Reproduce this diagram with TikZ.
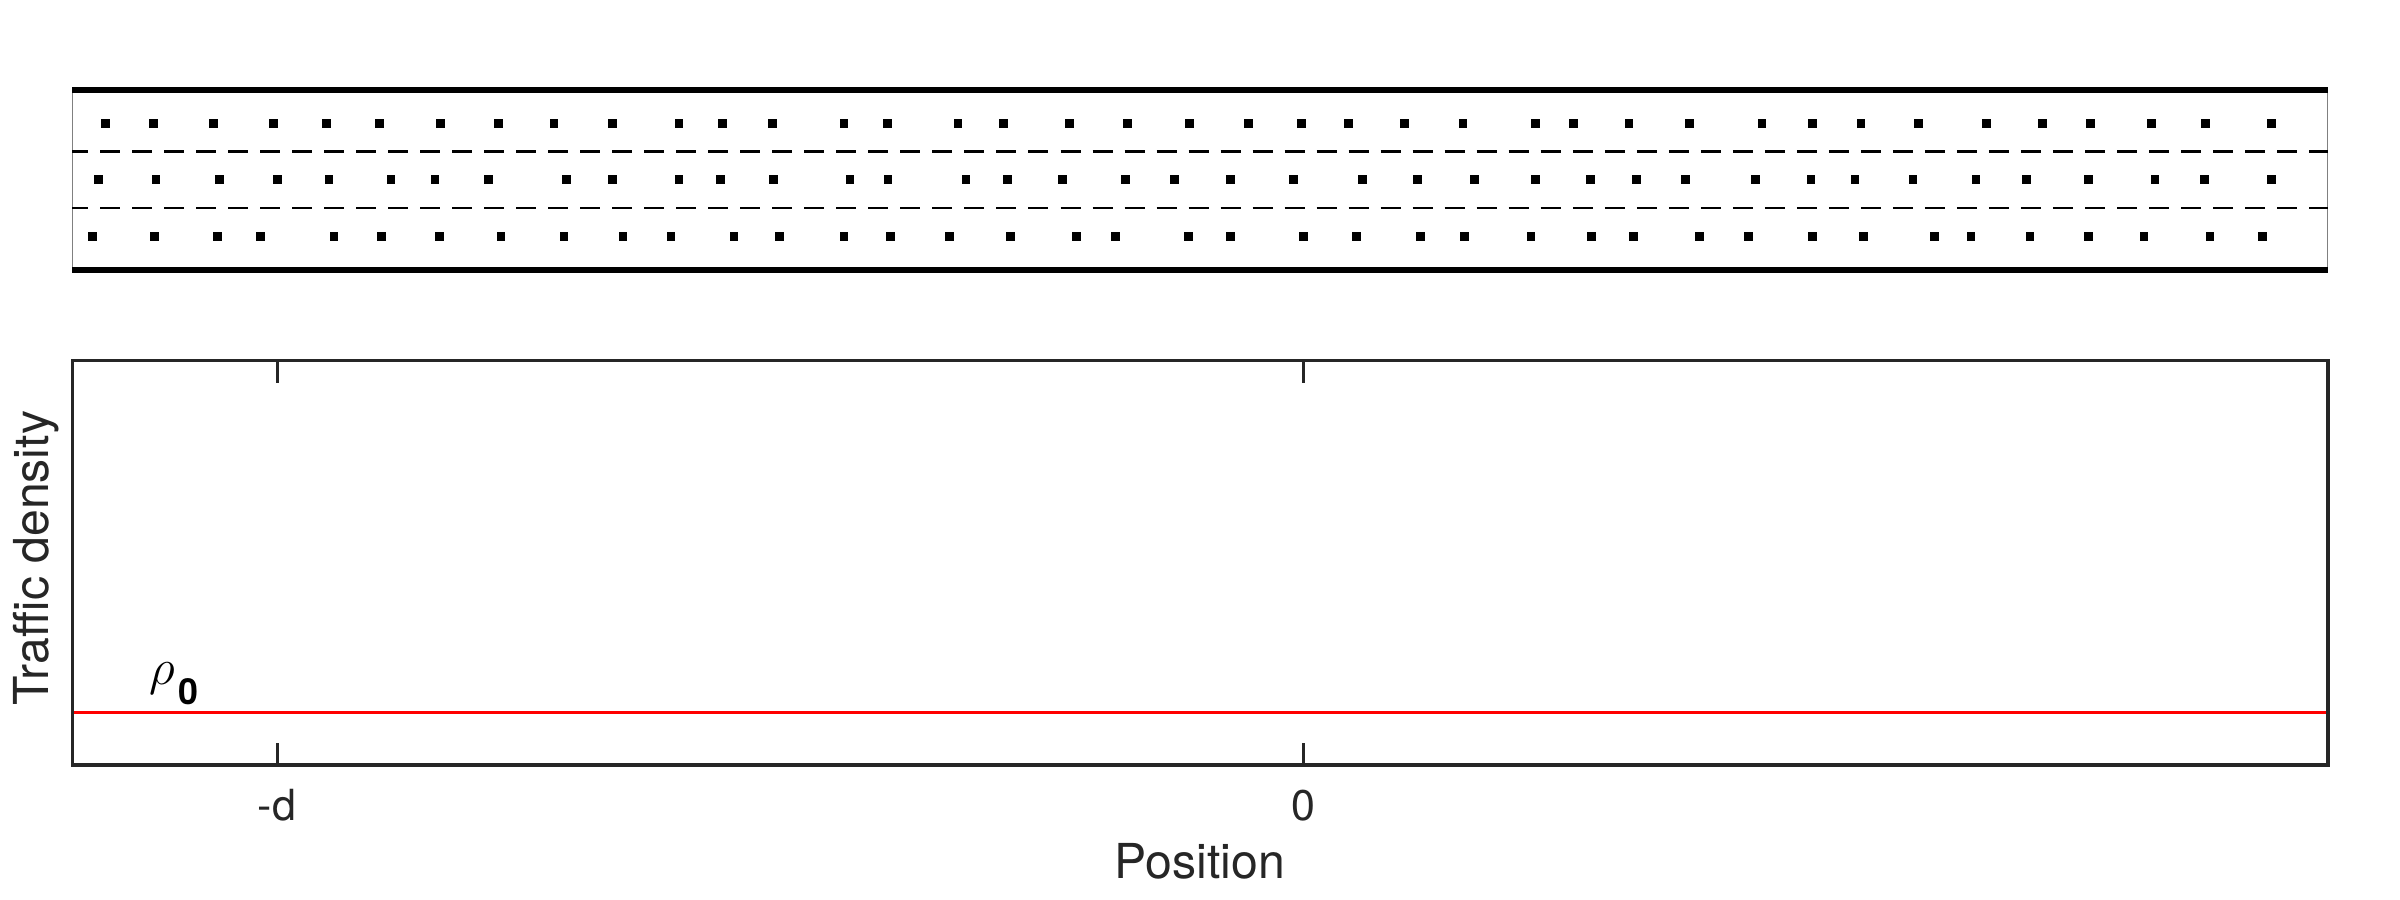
\documentclass[tikz,border=0pt]{standalone}
\usepackage{fontspec}
\setmainfont{TeX Gyre Heros}
\setsansfont{TeX Gyre Heros}
\definecolor{axiscol}{RGB}{38,38,38}
\begin{document}
\begin{tikzpicture}[x=0.01cm,y=-0.01cm,
  curb/.style={line width=1.62pt, black},
  laneline/.style={line width=0.57pt, black, dash pattern=on 5.69pt off 3.414pt, dash phase=1.22pt},
  roadend/.style={line width=0.3pt, black!50},
  car/.style={fill=black},
  axisline/.style={line width=0.98pt, draw=axiscol},
  tickmark/.style={line width=0.98pt, draw=axiscol},
  ticklab/.style={text=axiscol, font=\fontsize{12.2}{14}\selectfont, inner sep=0, anchor=base},
  axlabel/.style={text=axiscol, font=\fontsize{13.7}{16}\selectfont, inner sep=0, anchor=base},
  densline/.style={line width=1.0pt, draw=red}]
\useasboundingbox (0,0) rectangle (2400,900);

% ---------------- road ----------------
\coordinate (rNW) at (72.3,90);
\coordinate (rNE) at (2328,90);
\coordinate (rSW) at (72.3,270);
\coordinate (rSE) at (2328,270);
\coordinate (l1W) at (72.3,151.5);
\coordinate (l1E) at (2328,151.5);
\coordinate (l2W) at (72.3,208);
\coordinate (l2E) at (2328,208);
\draw[roadend] (72.6,90) -- (72.6,270);
\draw[roadend] (2327.6,90) -- (2327.6,270);
\draw[laneline] (l1W) -- (l1E);
\draw[laneline] (l2W) -- (l2E);
\draw[curb] (rNW) -- (rNE);
\draw[curb] (rSW) -- (rSE);

% cars, top lane
\foreach \x in {105.3,153.3,213.5,273.5,326.4,379.5,440.5,498.5,554.2,612.5,679.1,722.4,772.5,844.1,887.3,958.1,1003.5,1069.4,1127.5,1189.4,1248.4,1301.5,1348.3,1404.3,1463.2,1535.4,1573.3,1629.2,1689.7,1761.9,1812.4,1861.2,1918.3,1986.4,2042.3,2090.3,2151.5,2205.4,2271.5}
  \fill[car] (\x-4.25,123.3-4.25) rectangle ++(8.5,8.5);
% cars, middle lane
\foreach \x in {98.3,156.2,219.3,277.4,329.2,391.2,435.2,488.3,566.4,612.5,679.1,720.5,773.6,850.2,888.1,965.8,1007.4,1062.5,1125.4,1174.3,1230.4,1293.5,1362.4,1417.5,1474.3,1535.4,1590.5,1636.5,1685.5,1755.4,1811.1,1854.9,1913.2,1976.2,2026.3,2088.4,2155.2,2204.3,2271.5}
  \fill[car] (\x-4.25,179.3-4.25) rectangle ++(8.5,8.5);
% cars, bottom lane
\foreach \x in {92.3,154.5,217.4,260.3,334.2,381.4,439.3,501.2,564.1,623.2,671.1,734.2,779.4,844.1,890.4,949.3,1010.3,1076.3,1115.4,1188.3,1230.4,1303.4,1356.3,1420.3,1464.5,1531.2,1591.3,1633.4,1699.6,1748.5,1812.4,1863.3,1934.3,1971.2,2030.2,2088.4,2144.2,2210.2,2262.3}
  \fill[car] (\x-4.25,236.3-4.25) rectangle ++(8.5,8.5);

% ---------------- density plot ----------------
\coordinate (aNW) at (72.3,360.7);
\coordinate (aSE) at (2328,765);
\coordinate (rhoW) at (72.3,712.7);
\coordinate (rhoE) at (2328,712.7);
\coordinate (tdB) at (277.3,765);
\coordinate (tdT) at (277.3,360.7);
\coordinate (tzB) at (1303.3,765);
\coordinate (tzT) at (1303.3,360.7);

\draw[densline] (rhoW) -- (rhoE);
\draw[axisline] (aNW) rectangle (aSE);
\draw[tickmark] (tdB) -- ++(0,-22.5);
\draw[tickmark] (tdT) -- ++(0,22.5);
\draw[tickmark] (tzB) -- ++(0,-22.5);
\draw[tickmark] (tzT) -- ++(0,22.5);

\node[ticklab] (labd) at (277,820) {-d};
\node[ticklab] (lab0) at (1303.3,820) {0};
\node[axlabel] (xlab) at (1200,878.3) {Position};
\node[axlabel, rotate=90] (ylab) at (48.3,558) {Traffic density};

\node[inner sep=0, anchor=base west] (rho) at (149,684) {\fontsize{14}{14}\selectfont$\rho$};
\node[inner sep=0, anchor=base west] (rhosub) at (178,704) {\fontsize{10.2}{11}\selectfont\bfseries 0};
\end{tikzpicture}
\end{document}
